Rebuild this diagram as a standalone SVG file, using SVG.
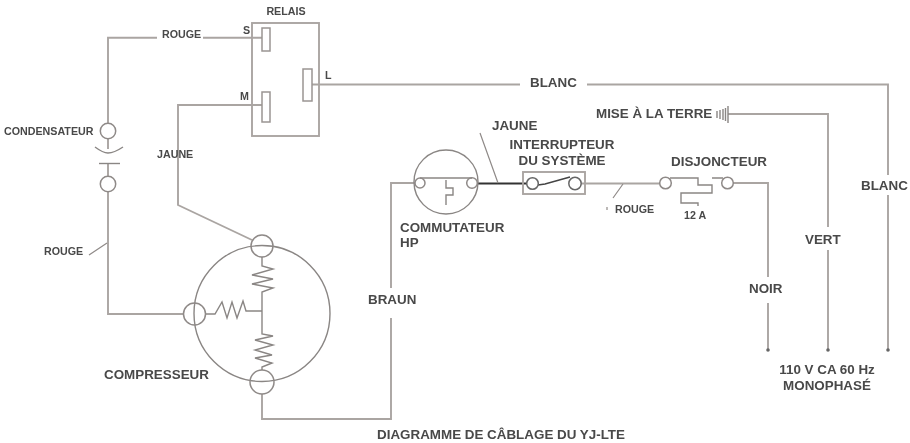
<svg xmlns="http://www.w3.org/2000/svg" width="910" height="443" viewBox="0 0 910 443">
<style>
.w{fill:none;stroke:#aaa5a2;stroke-width:1.9}
.s{fill:none;stroke:#8f8a88;stroke-width:1.2}
.c{fill:none;stroke:#8f8a88;stroke-width:1.5}
.r{fill:#fff;stroke:#9a9593;stroke-width:1.5}
.n{fill:none;stroke:#8a8684;stroke-width:1.4}
text{font-family:"Liberation Sans",Arial,sans-serif;font-weight:bold;fill:#484848;font-size:13.4px}
.m{font-size:10.7px}
.d{fill:#666}
</style>
<defs><filter id="soft" x="0" y="0" width="100%" height="100%"><feGaussianBlur stdDeviation="0.35"/></filter></defs>
<rect width="910" height="443" fill="#fff"/>
<g filter="url(#soft)">
<g id="connectors">
<path class="w" d="M157 37.700H108V123"/>
<path class="w" d="M203 37.700H262"/>
<path class="w" d="M108 139V149M108 163V176"/>
<path class="w" d="M108 192V314H183"/>
<path class="w" d="M262 105H178V205L252 240"/>
<path class="w" d="M312 84.500H520M587 84.500H888V175M888 195V350"/>
<path class="w" d="M262 394V419H391V318M391 288V183H415"/>
<path class="w" d="M581 183.500H660"/>
<path class="w" d="M733 183H768V277M768 303V350"/>
<path class="w" d="M728 114H828V227M828 250V350"/>
<path d="M477 183.500H527" fill="none" stroke="#333" stroke-width="2.2"/>
<path class="s" d="M480 133L498 183M623 184L613 198M107 243L89 255"/>
<path class="s" d="M607 207L607 210"/>
<circle class="d" cx="768" cy="350" r="1.800"/>
<circle class="d" cx="828" cy="350" r="1.800"/>
<circle class="d" cx="888" cy="350" r="1.800"/>
</g>
<g id="relais">
<rect class="w" x="252" y="23" width="67" height="113"/>
<rect class="r" x="262" y="28" width="8" height="23"/>
<rect class="r" x="262" y="92" width="8" height="30"/>
<rect class="r" x="303" y="69" width="9" height="32"/>
<text x="286" y="15" class="m" text-anchor="middle">RELAIS</text>
<text x="243" y="34" class="m">S</text>
<text x="240" y="100" class="m">M</text>
<text x="325" y="79" class="m">L</text>
</g>
<g id="condensateur">
<circle class="c" cx="108" cy="131" r="7.700"/>
<path class="n" d="M95 147Q103 153 108 153Q114 153 123 147"/>
<path class="n" d="M99 163.500H120"/>
<circle class="c" cx="108" cy="184" r="7.700"/>
<text x="4" y="135" class="m">CONDENSATEUR</text>
</g>
<g id="compresseur">
<circle class="n" cx="262" cy="313.500" r="68"/>
<circle class="c" cx="262" cy="246" r="11"/>
<circle class="c" cx="194.500" cy="314" r="11"/>
<circle class="c" cx="262" cy="382" r="12"/>
<path class="n" d="M262 257V266L273 269L252 275L273 279L252 284L273 288L262 292V334L273 336L255 340L273 345L255 350L272 355L255 358L272 363L262 367V370"/>
<path class="n" d="M206 314H215L222 302L227 318L232 302L237 318L243 301L246 311H262"/>
<text x="104" y="379">COMPRESSEUR</text>
</g>
<g id="commutateur-hp">
<circle class="n" cx="446" cy="182" r="32"/>
<path class="n" d="M420 178H472M446 180V188H453V195H446V205"/>
<circle class="c" cx="420" cy="183" r="5"/>
<circle class="c" cx="472" cy="183" r="5.300"/>
<text x="400" y="232">COMMUTATEUR</text>
<text x="400" y="247">HP</text>
</g>
<g id="interrupteur">
<rect class="w" x="523" y="172" width="62" height="22"/>
<path d="M538 185L545 184L570 177" fill="none" stroke="#444" stroke-width="1.500"/>
<circle cx="532.500" cy="183.500" r="5.800" fill="#fff" stroke="#666" stroke-width="1.500"/>
<circle cx="575" cy="183.500" r="6.200" fill="#fff" stroke="#666" stroke-width="1.500"/>
<text x="562" y="149" text-anchor="middle">INTERRUPTEUR</text>
<text x="562" y="165" text-anchor="middle">DU SYSTÈME</text>
</g>
<g id="disjoncteur">
<path class="n" d="M670 178H698V185H712V193H681V203H698V206M712 178H723"/>
<circle class="c" cx="665.500" cy="183" r="5.800"/>
<circle class="c" cx="727.500" cy="183" r="5.800"/>
<text x="671" y="166">DISJONCTEUR</text>
<text x="684" y="219" class="m">12 A</text>
</g>
<g id="terre">
<path class="n" d="M717 111V118M720 110V119M723 109V120M725.500 108V121M728 106V123"/>
<text x="596" y="118">MISE À LA TERRE</text>
</g>
<g id="labels">
<text x="162" y="38" class="m">ROUGE</text>
<text x="157" y="158" class="m">JAUNE</text>
<text x="44" y="255" class="m">ROUGE</text>
<text x="368" y="304">BRAUN</text>
<text x="492" y="130">JAUNE</text>
<text x="615" y="213" class="m">ROUGE</text>
<text x="530" y="87">BLANC</text>
<text x="861" y="190">BLANC</text>
<text x="805" y="244">VERT</text>
<text x="749" y="293">NOIR</text>
<text x="827" y="374" text-anchor="middle">110 V CA 60 Hz</text>
<text x="827" y="390" text-anchor="middle">MONOPHASÉ</text>
<text x="501" y="439" text-anchor="middle">DIAGRAMME DE CÂBLAGE DU YJ-LTE</text>
</g>
</g>
</svg>
